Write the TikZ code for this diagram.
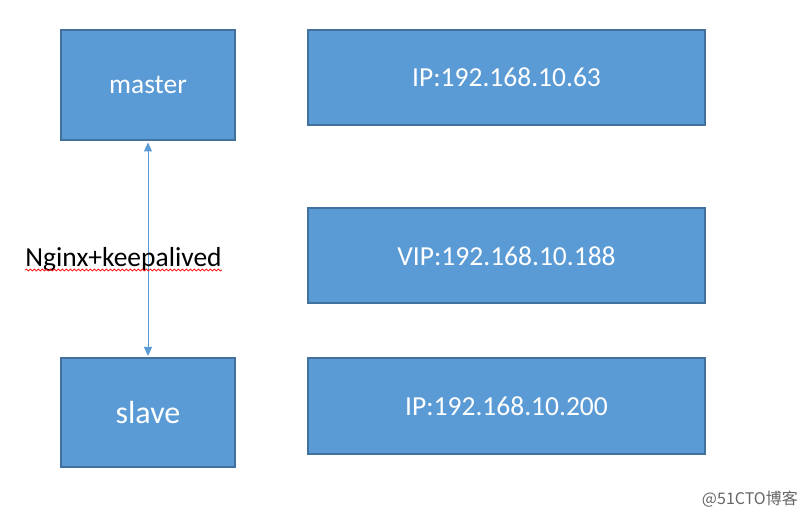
\documentclass[tikz,border=0pt]{standalone}
\usepackage{fontspec}
\setmainfont{Carlito}
\newfontfamily\cjkfont{Noto Sans CJK SC}
\usetikzlibrary{arrows.meta,decorations.pathmorphing}
\definecolor{boxfill}{HTML}{5B9BD5}
\definecolor{boxline}{HTML}{41719C}
\definecolor{wmgray}{HTML}{666666}
\tikzset{
  box/.style={draw=boxline, line width=2pt, fill=boxfill, text=white, inner sep=0pt},
  leftbox/.style={box, minimum width=174pt, minimum height=110pt},
  rightbox/.style={box, minimum width=397pt, minimum height=95pt},
  bigtext/.style={font=\fontsize{27.5}{32}\selectfont},
  biggertext/.style={font=\fontsize{32}{38}\selectfont},
  linkarrow/.style={draw=boxfill, line width=1pt, {Triangle[width=8pt,length=9pt]}-{Triangle[width=8pt,length=9pt]}, shorten <=1.5pt, shorten >=1.5pt},
  squiggle/.style={draw=red, line width=0.7pt, decorate, decoration={snake, amplitude=1pt, segment length=4pt}}
}
\begin{document}
\begin{tikzpicture}[x=1pt,y=-1pt]
\useasboundingbox[fill=white] (0,0) rectangle (806,518);
\node[leftbox, bigtext] (master) at (148,85) {\raisebox{-2pt}{master}};
\node[leftbox, minimum height=108pt, biggertext] (slave) at (148,412.5) {slave};
\node[rightbox, bigtext] (ip1) at (506.5,77.5) {IP:192.168.10.63};
\node[rightbox, bigtext] (vip) at (506.5,256) {VIP:192.168.10.188};
\node[rightbox, bigtext] (ip2) at (506.5,406) {IP:192.168.10.200};
\draw[linkarrow] (master.south) -- (slave.north);
\node[bigtext, inner sep=0pt, anchor=base] (lbl) at (123.5,267) {Nginx+keepalived};
\draw[squiggle] ([yshift=-3pt]lbl.base west) -- ([yshift=-3pt]lbl.base east);
\node[font=\cjkfont\fontsize{16}{18}\selectfont, text=wmgray, anchor=east, inner sep=0pt] (wm) at (798,499) {@51CTO博客};
\end{tikzpicture}
\end{document}
